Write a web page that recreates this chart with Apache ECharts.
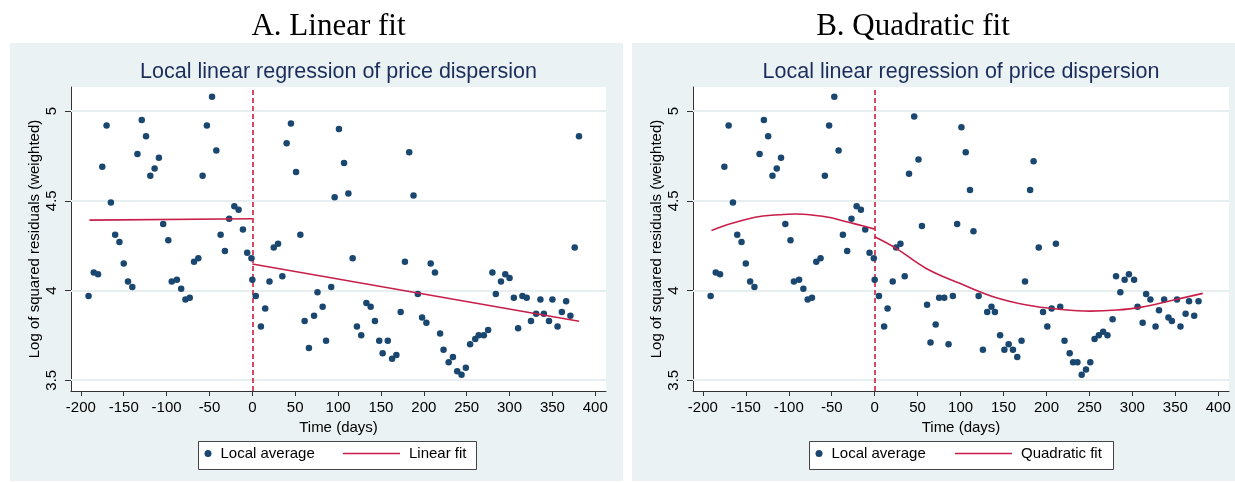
<!DOCTYPE html>
<html>
<head>
<meta charset="utf-8">
<script src="https://cdn.jsdelivr.net/npm/echarts@6/dist/echarts.min.js"></script>
<style>
html,body{margin:0;padding:0;background:#fff;}
#c{width:1235px;height:483px;}
</style>
</head>
<body>
<div id="c"></div>
<script>
// ---------- data ----------
const xTicks = [-200,-150,-100,-50,0,50,100,150,200,250,300,350,400];
const yTicks = [3.5,4,4.5,5];

// local averages before the cutoff (same in both panels)
const preX = [-191,-185,-180,-175,-170,-165,-160,-155,-150,-145,-140,-134,-129,-124,-119,-114,-109,-104,-98,-94,-88,-83,-78,-73,-68,-63,-58,-53,-47,-42,-37,-32,-27,-21,-16,-11,-6,-1];
const preY = [3.97,4.10,4.09,4.69,4.92,4.49,4.31,4.27,4.15,4.05,4.02,4.76,4.95,4.86,4.64,4.68,4.74,4.37,4.28,4.05,4.06,4.01,3.95,3.96,4.16,4.18,4.64,4.92,5.08,4.78,4.31,4.22,4.40,4.47,4.45,4.34,4.21,4.18];

// panel A, after the cutoff
const linPostX = [0,4,10,15,20,25,30,35,40,45,51,56,61,66,72,76,82,86,92,96,101,107,112,117,122,127,133,138,143,148,152,158,163,168,173,178,183,188,193,198,203,208,213,219,223,229,234,239,244,249,254,260,264,270,275,280,284,290,295,300,305,310,315,320,325,331,336,340,346,350,356,361,366,371,376,381];
const linPostY = [4.06,3.97,3.80,3.90,4.05,4.24,4.26,4.08,4.82,4.93,4.66,4.31,3.83,3.68,3.86,3.99,3.91,3.72,4.02,4.52,4.90,4.71,4.54,4.18,3.80,3.75,3.93,3.91,3.83,3.72,3.65,3.72,3.62,3.64,3.88,4.16,4.77,4.53,3.98,3.85,3.82,4.15,4.10,3.76,3.67,3.60,3.63,3.55,3.53,3.57,3.70,3.73,3.75,3.75,3.78,4.10,3.98,4.05,4.09,4.07,3.96,3.79,3.97,3.96,3.83,3.87,3.95,3.87,3.83,3.95,3.80,3.88,3.94,3.86,4.24,4.86];

// panel B, after the cutoff
const quadPostX = [0,5,11,15,21,25,30,35,40,46,51,55,61,65,71,75,81,86,91,96,101,106,111,115,121,126,131,136,140,146,151,156,161,166,171,175,181,185,191,196,201,206,211,216,221,227,231,236,241,246,251,256,261,266,271,277,281,286,291,296,302,306,312,316,321,327,331,337,342,346,352,356,362,366,372,377];
const quadPostY = [4.06,3.97,3.80,3.90,4.05,4.24,4.26,4.08,4.65,4.97,4.73,4.36,3.92,3.71,3.81,3.96,3.96,3.70,3.97,4.37,4.91,4.77,4.56,4.33,3.97,3.67,3.88,3.91,3.88,3.75,3.67,3.70,3.67,3.63,3.72,4.05,4.56,4.72,4.24,3.88,3.80,3.90,4.26,3.91,3.72,3.65,3.60,3.60,3.53,3.56,3.60,3.73,3.75,3.77,3.75,3.84,4.08,3.99,4.06,4.09,4.06,3.91,3.82,3.98,3.95,3.80,3.89,3.95,3.85,3.83,3.95,3.80,3.87,3.94,3.86,3.94];

// fitted lines
const linFitPreX = [-190, 0];
const linFitPreY = [4.392, 4.400];
const linFitPostX = [0, 381];
const linFitPostY = [4.148, 3.829];

const quadFitPreX = [-190,-169,-150,-130,-111,-93,-72,-52,-33,-14,0];
const quadFitPreY = [4.335,4.370,4.396,4.415,4.422,4.426,4.420,4.407,4.383,4.361,4.342];
const quadFitPostX = [0,25,60,99,138,177,216,251,282,309,348,382];
const quadFitPostY = [4.300,4.235,4.123,4.040,3.965,3.919,3.895,3.885,3.891,3.906,3.947,3.984];

// ---------- helpers ----------
function zip(xs, ys){ return xs.map((x,i)=>[x, ys[i]]); }

const FONT = "'Liberation Sans', Arial, sans-serif";
const SERIF = "'Liberation Serif', 'Times New Roman', serif";
const NAVY = '#1a476f';
const RED = '#c81e4a';
const PANEL = '#eaf2f3';
const GRIDLINE = '#e6eef0';
const LINE_ICON = 'path://M0,0 L57,0 L57,1.6 L0,1.6 Z';

const grids = [
  {left:71, top:87, width:535, height:304},
  {left:693, top:87, width:536, height:304}
];

function xAxisFor(i){
  return {
    gridIndex:i, type:'value', min:-211.5, max:412.5,
    axisLine:{show:true, onZero:false, lineStyle:{color:'#333', width:1}},
    axisTick:{show:true, length:5, customValues:xTicks, lineStyle:{color:'#333'}},
    axisLabel:{customValues:xTicks, color:'#000', fontSize:15, fontFamily:FONT, margin:9},
    splitLine:{show:false},
    name:'Time (days)', nameLocation:'middle', nameGap:26,
    nameTextStyle:{color:'#000', fontSize:15, fontFamily:FONT}
  };
}
function yAxisFor(i){
  return {
    gridIndex:i, type:'value', min:3.44, max:5.134,
    axisLine:{show:true, onZero:false, lineStyle:{color:'#333', width:1}},
    axisTick:{show:true, length:6, customValues:yTicks, lineStyle:{color:'#333'}},
    axisLabel:{customValues:yTicks, color:'#000', fontSize:15, fontFamily:FONT, margin:12, rotate:90},
    splitLine:{show:false},
    name:'Log of squared residuals (weighted)', nameLocation:'middle', nameRotate:90, nameGap:29,
    nameTextStyle:{color:'#000', fontSize:15, fontFamily:FONT}
  };
}
function refSeries(i){
  const data = yTicks.map(v=>({yAxis:v, lineStyle:{color:GRIDLINE, width:2, type:'solid'}}));
  data.push({xAxis:0, lineStyle:{color:'#cc1133', width:1.5, type:[5,3]}});
  return {
    type:'line', xAxisIndex:i, yAxisIndex:i, data:[], silent:true, z:1,
    markLine:{silent:true, symbol:['none','none'], z:1, animation:false, label:{show:false}, data:data}
  };
}
function scatterSeries(i, pts){
  return {name:'Local average', type:'scatter', xAxisIndex:i, yAxisIndex:i, data:pts,
    symbolSize:6.5, itemStyle:{color:NAVY, opacity:1}, z:3, animation:false};
}
function lineSeries(i, name, pts, smooth){
  return {name:name, type:'line', xAxisIndex:i, yAxisIndex:i, data:pts, symbol:'none', showSymbol:false,
    smooth:smooth, lineStyle:{color:RED, width:1.6}, itemStyle:{color:RED}, z:4, animation:false};
}
function legendFor(name, left, icon, w){
  return {data:[{name:name, icon:icon}], left:left, top:446, orient:'horizontal', padding:0,
    itemWidth:w, itemHeight:14, selectedMode:false, z:6, symbolKeepAspect:true,
    textStyle:{color:'#000', fontSize:15, fontFamily:FONT, padding:[0,0,0,4]}};
}

const option = {
  backgroundColor:'#fff',
  animation:false,
  graphic:[
    {type:'rect', z:-10, shape:{x:10, y:43, width:613, height:438}, style:{fill:PANEL}},
    {type:'rect', z:-10, shape:{x:632, y:43, width:610, height:438}, style:{fill:PANEL}},
    {type:'rect', z:-9, shape:{x:71, y:87, width:535, height:304}, style:{fill:'#fff'}},
    {type:'rect', z:-9, shape:{x:693, y:87, width:536, height:304}, style:{fill:'#fff'}},
    {type:'rect', z:-8, shape:{x:198.5, y:441.5, width:278, height:28}, style:{fill:'#fff', stroke:'#444', lineWidth:1}},
    {type:'rect', z:-8, shape:{x:809.5, y:441.5, width:304, height:28}, style:{fill:'#fff', stroke:'#444', lineWidth:1}},
    {type:'text', z:5, x:328.5, y:27, style:{text:'A. Linear fit', font:"31px "+SERIF, fill:'#000', align:'center', verticalAlign:'middle', textAlign:'center', textVerticalAlign:'middle'}},
    {type:'text', z:5, x:913, y:27, style:{text:'B. Quadratic fit', font:"31px "+SERIF, fill:'#000', align:'center', verticalAlign:'middle', textAlign:'center', textVerticalAlign:'middle'}},
    {type:'text', z:5, x:338.5, y:72.5, style:{text:'Local linear regression of price dispersion', font:"21.5px "+FONT, fill:'#1c2d5c', align:'center', verticalAlign:'middle', textAlign:'center', textVerticalAlign:'middle'}},
    {type:'text', z:5, x:961, y:72.5, style:{text:'Local linear regression of price dispersion', font:"21.5px "+FONT, fill:'#1c2d5c', align:'center', verticalAlign:'middle', textAlign:'center', textVerticalAlign:'middle'}}
  ],
  grid: grids,
  xAxis:[xAxisFor(0), xAxisFor(1)],
  yAxis:[yAxisFor(0), yAxisFor(1)],
  legend:[
    legendFor('Local average', 204.5, 'circle', 7),
    legendFor('Linear fit', 343, LINE_ICON, 57),
    legendFor('Local average', 815.5, 'circle', 7),
    legendFor('Quadratic fit', 955, LINE_ICON, 57)
  ],
  series:[
    refSeries(0),
    refSeries(1),
    scatterSeries(0, zip(preX, preY).concat(zip(linPostX, linPostY))),
    scatterSeries(1, zip(preX, preY).concat(zip(quadPostX, quadPostY))),
    lineSeries(0, 'Linear fit', zip(linFitPreX, linFitPreY), false),
    lineSeries(0, 'Linear fit', zip(linFitPostX, linFitPostY), false),
    lineSeries(1, 'Quadratic fit', zip(quadFitPreX, quadFitPreY), 0.4),
    lineSeries(1, 'Quadratic fit', zip(quadFitPostX, quadFitPostY), 0.4)
  ]
};

const chart = echarts.init(document.getElementById('c'), null, {renderer:'canvas', width:1235, height:483});
chart.setOption(option);
</script>
</body>
</html>
